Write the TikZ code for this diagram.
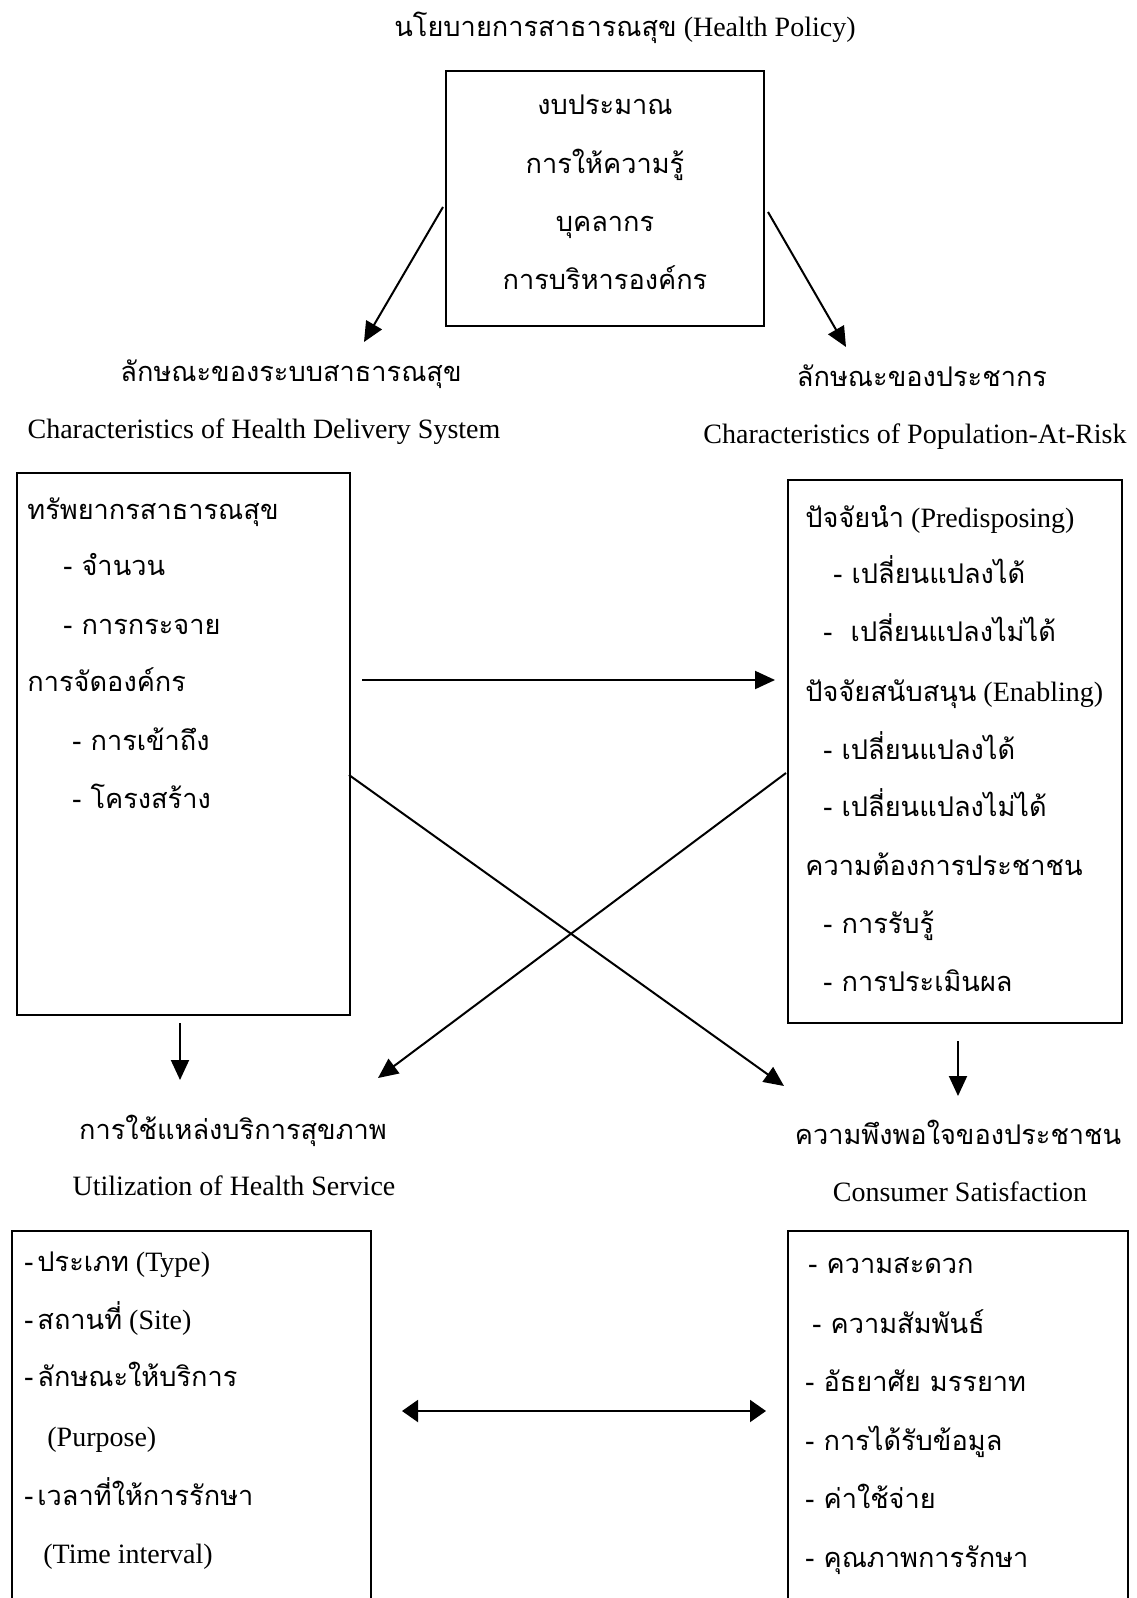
\documentclass[tikz,border=0pt]{standalone}
\usepackage{fontspec}
\setmainfont{Liberation Serif}
\newfontfamily\thaifont[Script=Thai,Scale=0.97]{Loma}
\newcommand{\thaitxt}[1]{{\thaifont #1}}
\usetikzlibrary{arrows.meta,fit}

\begin{document}
\begin{tikzpicture}[x=0.5pt, y=-0.5pt, font=\fontsize{14}{16}\selectfont]
%% coordinates: origin top left, y grows downwards
%% one unit is one pixel of the 1136x1598 scan
\tikzstyle{arc}=[-{Stealth[length=10pt,width=9pt,inset=0pt]},line width=1pt]
\tikzstyle{biArc}=[{Stealth[length=8pt,width=11pt,inset=0pt]}-{Stealth[length=8pt,width=11pt,inset=0pt]},line width=1pt]
\tikzstyle{box}=[draw,line width=1.3pt,inner sep=0pt]
\tikzstyle{item}=[anchor=base west,inner sep=0pt]
\tikzstyle{caption}=[anchor=base,inner sep=0pt]
\useasboundingbox (0,0) rectangle (1136,1598);
\clip (0,0) rectangle (1136,1598);
%% Health policy %%
\node[caption] at (625,37) (Policy_Title) {\thaitxt{นโยบายการสาธารณสุข} (Health Policy)};
\node[box, fit={(446,71) (764,326)}] (Policy_Box) {};
\node[caption] at (605,115) (Budget) {\thaitxt{งบประมาณ}};
\node[caption] at (605,174) (Education) {\thaitxt{การให้ความรู้}};
\node[caption] at (605,232) (Personnel) {\thaitxt{บุคลากร}};
\node[caption] at (605,290) (Management) {\thaitxt{การบริหารองค์กร}};
%% Health delivery system %%
\node[caption] at (291,382) (System_Thai) {\thaitxt{ลักษณะของระบบสาธารณสุข}};
\node[caption] at (264,439) (System_Title) {Characteristics of Health Delivery System};
\node[box, fit={(17,473) (350,1015)}] (System_Box) {};
\node[item] at (27,519) (Resources) {\thaitxt{ทรัพยากรสาธารณสุข}};
\node[item] at (63,575) (Volume) {\thaitxt{- จำนวน}};
\node[item] at (63,634) (Distribution) {\thaitxt{- การกระจาย}};
\node[item] at (27,691) (Organization) {\thaitxt{การจัดองค์กร}};
\node[item] at (72,750) (Access) {\thaitxt{- การเข้าถึง}};
\node[item] at (72,808) (Structure) {\thaitxt{- โครงสร้าง}};
%% Population at risk %%
\node[caption] at (922,387) (Population_Thai) {\thaitxt{ลักษณะของประชากร}};
\node[caption] at (915,444) (Population_Title) {Characteristics of Population-At-Risk};
\node[box, fit={(788,480) (1122,1023)}] (Population_Box) {};
\node[item] at (805,527) (Predisposing) {\thaitxt{ปัจจัยนำ} (Predisposing)};
\node[item] at (833,583) (Predisposing_Mutable) {\thaitxt{- เปลี่ยนแปลงได้}};
\node[item] at (823,641) (Predisposing_Fixed) {\thaitxt{-\ \ เปลี่ยนแปลงไม่ได้}};
\node[item] at (805,701) (Enabling) {\thaitxt{ปัจจัยสนับสนุน} (Enabling)};
\node[item] at (823,759) (Enabling_Mutable) {\thaitxt{- เปลี่ยนแปลงได้}};
\node[item] at (823,816) (Enabling_Fixed) {\thaitxt{- เปลี่ยนแปลงไม่ได้}};
\node[item] at (805,875) (Need) {\thaitxt{ความต้องการประชาชน}};
\node[item] at (823,933) (Perceived) {\thaitxt{- การรับรู้}};
\node[item] at (823,991) (Evaluated) {\thaitxt{- การประเมินผล}};
%% Utilization of health service %%
\node[caption] at (233,1139) (Utilization_Thai) {\thaitxt{การใช้แหล่งบริการสุขภาพ}};
\node[caption] at (234,1195) (Utilization_Title) {Utilization of Health Service};
\node[box, fit={(12,1231) (371,1620)}] (Utilization_Box) {};
\node[item] at (24,1271) (Type) {\thaitxt{-\hspace{2pt}ประเภท} (Type)};
\node[item] at (24,1329) (Site) {\thaitxt{-\hspace{2pt}สถานที่} (Site)};
\node[item] at (24,1386) (Purpose) {\thaitxt{-\hspace{2pt}ลักษณะให้บริการ}};
\node[item] at (47,1446) (Purpose_En) {(Purpose)};
\node[item] at (24,1505) (Interval) {\thaitxt{-\hspace{2pt}เวลาที่ให้การรักษา}};
\node[item] at (43,1563) (Interval_En) {(Time interval)};
%% Consumer satisfaction %%
\node[caption] at (958,1144) (Satisfaction_Thai) {\thaitxt{ความพึงพอใจของประชาชน}};
\node[caption] at (960,1201) (Satisfaction_Title) {Consumer Satisfaction};
\node[box, fit={(788,1231) (1128,1620)}] (Satisfaction_Box) {};
\node[item] at (808,1273) (Convenience) {\thaitxt{- ความสะดวก}};
\node[item] at (812,1333) (Relations) {\thaitxt{- ความสัมพันธ์}};
\node[item] at (805,1391) (Courtesy) {\thaitxt{- อัธยาศัย มรรยาท}};
\node[item] at (805,1450) (Information) {\thaitxt{- การได้รับข้อมูล}};
\node[item] at (805,1508) (Cost) {\thaitxt{- ค่าใช้จ่าย}};
\node[item] at (805,1567) (Quality) {\thaitxt{- คุณภาพการรักษา}};
%% arc end points %%
\coordinate (Policy_Out_L) at (443,207);
\coordinate (Policy_Out_R) at (768,212);
\coordinate (System_In) at (364,342);
\coordinate (Population_In) at (846,347);
\coordinate (Cross_Out_L) at (362,680);
\coordinate (Cross_In_R) at (775,680);
\coordinate (Diag_Out_L) at (349,775);
\coordinate (Diag_In_R) at (784,1086);
\coordinate (Diag_Out_R) at (786,773);
\coordinate (Diag_In_L) at (378,1078);
\coordinate (Down_In_L) at (180,1080);
\coordinate (Down_In_R) at (958,1096);
\coordinate (Link_L) at (402,1411);
\coordinate (Link_R) at (766,1411);
%% arcs %%
\draw[arc] (Policy_Out_L) -- (System_In);
\draw[arc] (Policy_Out_R) -- (Population_In);
\draw[arc] (Cross_Out_L) -- (Cross_In_R);
\draw[arc] (Diag_Out_L) -- (Diag_In_R);
\draw[arc] (Diag_Out_R) -- (Diag_In_L);
\draw[arc] (System_Box.south -| Down_In_L) ++(0,7) coordinate (Down_Out_L) -- (Down_In_L);
\draw[arc] (Population_Box.south -| Down_In_R) ++(0,17) coordinate (Down_Out_R) -- (Down_In_R);
\draw[biArc] (Link_L) -- (Link_R);
\end{tikzpicture}
\end{document}
